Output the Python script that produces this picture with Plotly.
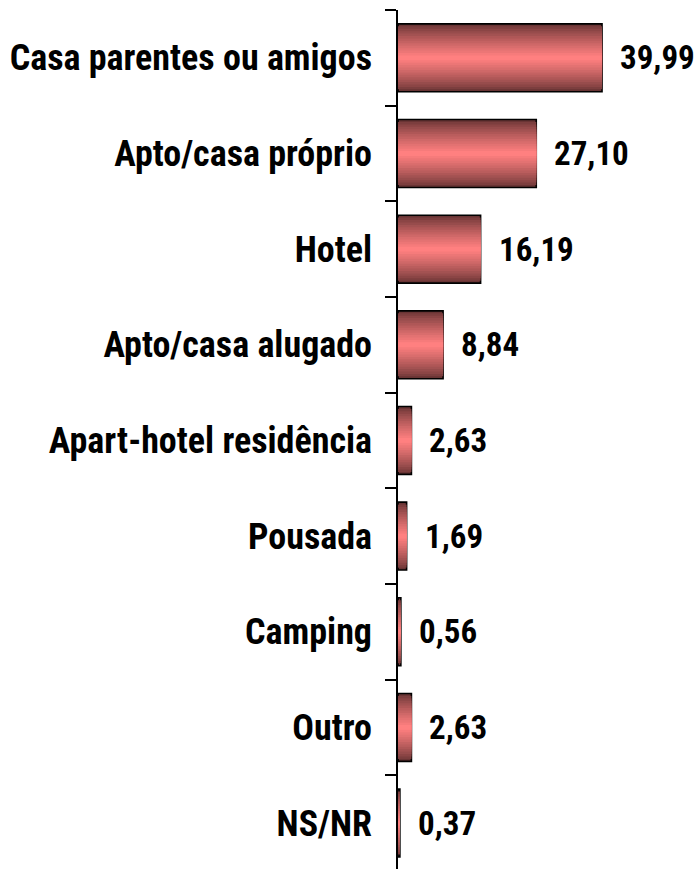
import plotly.graph_objects as go

categories = ["Casa parentes ou amigos", "Apto/casa próprio", "Hotel", "Apto/casa alugado",
              "Apart-hotel residência", "Pousada", "Camping", "Outro", "NS/NR"]
values = [39.99, 27.10, 16.19, 8.84, 2.63, 1.69, 0.56, 2.63, 0.37]
value_labels = [f"{v:.2f}".replace(".", ",") for v in values]

FONT = "Roboto Condensed, Liberation Sans Narrow, Arial Narrow, sans-serif"
FSIZE = 36
VSIZE = 33
dark = (105, 52, 52)
light = (255, 128, 128)
N = 14
full_w = 0.71

fig = go.Figure()
for k in range(N):
    t = k / (N - 1)
    s = t ** 0.8
    col = tuple(int(round(dark[i] + (light[i] - dark[i]) * s)) for i in range(3))
    w = full_w * (1 - k / N)
    fig.add_trace(go.Bar(
        x=values, y=categories, orientation="h",
        width=w,
        marker=dict(color=f"rgb{col}",
                    line=dict(color="black", width=1.6 if k == 0 else 0)),
        hoverinfo="skip", showlegend=False,
    ))

for cat, v, lab in zip(categories, values, value_labels):
    fig.add_annotation(x=v, y=cat, text=f"<b>{lab}</b>", showarrow=False,
                       xanchor="left", yanchor="middle", xshift=16,
                       font=dict(family=FONT, size=VSIZE, color="black"))

fig.update_layout(
    width=698, height=869,
    margin=dict(l=398, r=0, t=10, b=0),
    barmode="overlay",
    plot_bgcolor="white", paper_bgcolor="white",
    font=dict(family=FONT, size=FSIZE, color="black"),
    showlegend=False,
)
fig.update_xaxes(range=[0, 58.8], visible=False, showgrid=False, zeroline=False, automargin=False)
fig.update_yaxes(
    type="category", categoryorder="array", categoryarray=categories,
    range=[8.48, -0.5], showline=True, linecolor="black", linewidth=1.6,
    ticks="outside", tickson="boundaries", ticklen=11, tickwidth=1.6, tickcolor="black",
    showgrid=False, zeroline=False, ticklabelstandoff=17, automargin=False,
    tickfont=dict(family=FONT, size=FSIZE, color="black"),
    tickprefix="<b>", ticksuffix="</b>",
)

fig.write_html("out.html", config={"displayModeBar": False},
               post_script="document.body.style.margin='0';document.body.style.overflow='hidden';")
